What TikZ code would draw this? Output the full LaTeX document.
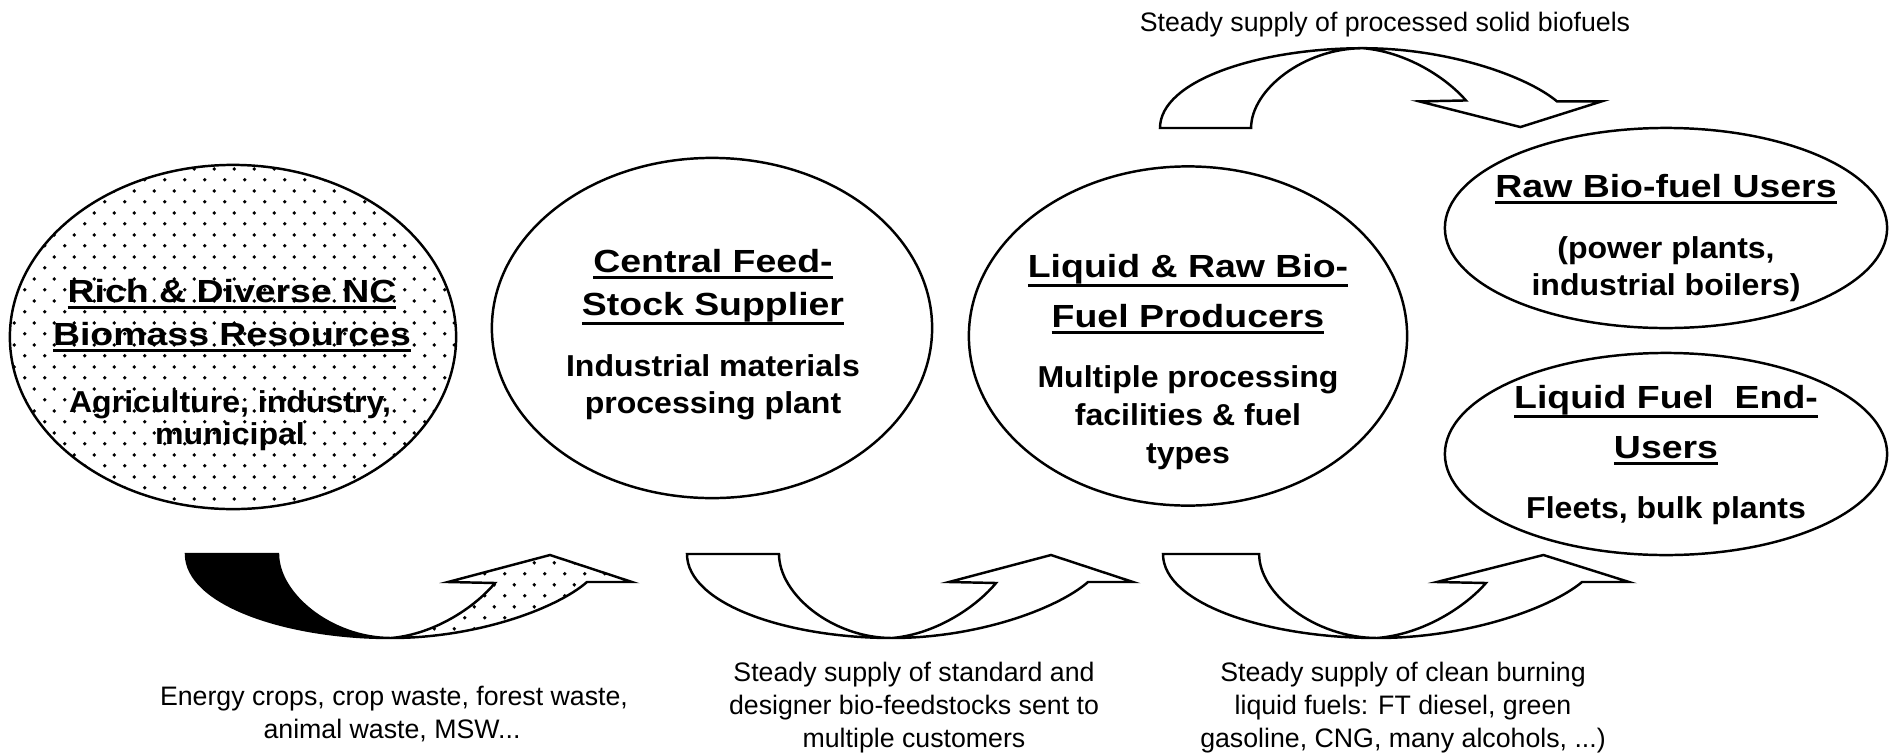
\documentclass[tikz,border=0pt]{standalone}
\usepackage{fontspec}
\setmainfont{Liberation Sans}
\newfontfamily\titlef{Liberation Sans}[FakeStretch=1.17]
\newfontfamily\bodyf{Liberation Sans}[FakeStretch=1.06]
\usetikzlibrary{shapes.geometric,patterns.meta}

\newcommand\ulx[1]{\setbox0=\hbox{#1}\dimen0=\dp0 \divide\dimen0 by 2 \advance\dimen0 by 1.85pt \rlap{\rule[-\dimen0]{\wd0}{0.85pt}}\box0}

\tikzdeclarepattern{
  name=sparsedots,
  type=uncolored,
  bounding box={(0pt,0pt) and (5.7pt,6.2pt)},
  tile size={(5.7pt,6.2pt)},
  code={
    \pgfpathcircle{\pgfqpoint{1.4pt}{1.5pt}}{0.55pt}
    \pgfpathcircle{\pgfqpoint{4.25pt}{4.6pt}}{0.55pt}
    \pgfusepath{fill}
  }
}

\tikzset{
  bub/.style={ellipse, draw, line width=0.7pt, inner sep=0pt},
  ttl/.style={anchor=base, inner sep=0pt, font=\titlef\bfseries\fontsize{9.1pt}{11pt}\selectfont},
  bdy/.style={anchor=base, inner sep=0pt, font=\bodyf\bfseries\fontsize{8.6pt}{10pt}\selectfont},
  lbl/.style={anchor=base, inner sep=0pt, font=\fontsize{7.6pt}{9pt}\selectfont},
  rib/.style={draw, line width=0.7pt, line join=miter},
}

% ribbon arrow: #1 style of tail half, #2 style of head half
\newcommand\ribbon[2]{%
  \path[rib,#1] (0,0) -- (92,0) .. controls (92,40) and (145,84) .. (205,84)
      .. controls (100,84) and (0,50) .. (0,0) -- cycle;
  \path[rib,#2] (205,84) .. controls (290,84) and (370,55) .. (401,28)
      -- (446,28) -- (364,1) -- (262,28) -- (309,29)
      .. controls (290,52) and (250,80) .. (205,84) -- cycle;
}

\begin{document}
\begin{tikzpicture}[x=0.01cm,y=-0.01cm]
\fill[white] (0,0) rectangle (1897,754);
\useasboundingbox (0,0) rectangle (1897,754);

% curved arrows
\begin{scope}[shift={(186,554)}]
  \ribbon{fill=black}{pattern=sparsedots}
\end{scope}
\begin{scope}[shift={(687,554)}]
  \ribbon{fill=white}{fill=white}
\end{scope}
\begin{scope}[shift={(1163,554)},xscale=1.045]
  \ribbon{fill=white}{fill=white}
\end{scope}
\begin{scope}[shift={(1160,128)},xscale=0.99,yscale=-0.95]
  \ribbon{fill=white}{fill=white}
\end{scope}

% ellipses
\node[bub, pattern=sparsedots, minimum width=4.46cm, minimum height=3.44cm] (e1) at (233,337) {};
\node[bub, fill=white, minimum width=4.40cm, minimum height=3.40cm] (e2) at (712,328) {};
\node[bub, fill=white, minimum width=4.38cm, minimum height=3.39cm] (e3) at (1188,336) {};
\node[bub, fill=white, minimum width=4.42cm, minimum height=2.00cm] (e4) at (1666,228) {};
\node[bub, fill=white, minimum width=4.42cm, minimum height=2.02cm] (e5) at (1666,454) {};

% ellipse 1 text
\node[ttl] (e1a) at (232,302) {\ulx{Rich \& Diverse NC}};
\node[ttl] (e1b) at (232,345) {\ulx{Biomass Resources}};
\node[bdy] (e1c) at (230,412) {Agriculture, industry,};
\node[bdy] (e1d) at (230,444) {municipal};

% ellipse 2 text
\node[ttl] (e2a) at (713,272) {\ulx{Central Feed-}};
\node[ttl] (e2b) at (713,315) {\ulx{Stock Supplier}};
\node[bdy] (e2c) at (713,376) {Industrial materials};
\node[bdy] (e2d) at (713,413) {processing plant};

% ellipse 3 text
\node[ttl] (e3a) at (1188,277) {\ulx{Liquid \& Raw Bio-}};
\node[ttl] (e3b) at (1188,327) {\ulx{Fuel Producers}};
\node[bdy] (e3c) at (1188,387) {Multiple processing};
\node[bdy] (e3d) at (1188,425) {facilities \& fuel};
\node[bdy] (e3e) at (1188,463) {types};

% ellipse 4 text
\node[ttl] (e4a) at (1666,197) {\ulx{Raw Bio-fuel Users}};
\node[bdy] (e4b) at (1666,258) {(power plants,};
\node[bdy] (e4c) at (1666,295) {industrial boilers)};

% ellipse 5 text
\node[ttl] (e5a) at (1666,408) {\ulx{Liquid Fuel\ \ End-}};
\node[ttl] (e5b) at (1666,458) {\ulx{Users}};
\node[bdy] (e5c) at (1666,518) {Fleets, bulk plants};

% labels
\node[lbl] (l0) at (1385,31) {Steady supply of processed solid biofuels};
\node[lbl] (l1a) at (394,705) {Energy crops, crop waste, forest waste,};
\node[lbl] (l1b) at (392,738) {animal waste, MSW...};
\node[lbl] (l2a) at (914,681) {Steady supply of standard and};
\node[lbl] (l2b) at (914,714) {designer bio-feedstocks sent to};
\node[lbl] (l2c) at (914,747) {multiple customers};
\node[lbl] (l3a) at (1403,681) {Steady supply of clean burning};
\node[lbl] (l3b) at (1403,714) {liquid fuels: FT diesel, green};
\node[lbl] (l3c) at (1403,747) {gasoline, CNG, many alcohols, ...)};
\end{tikzpicture}
\end{document}
